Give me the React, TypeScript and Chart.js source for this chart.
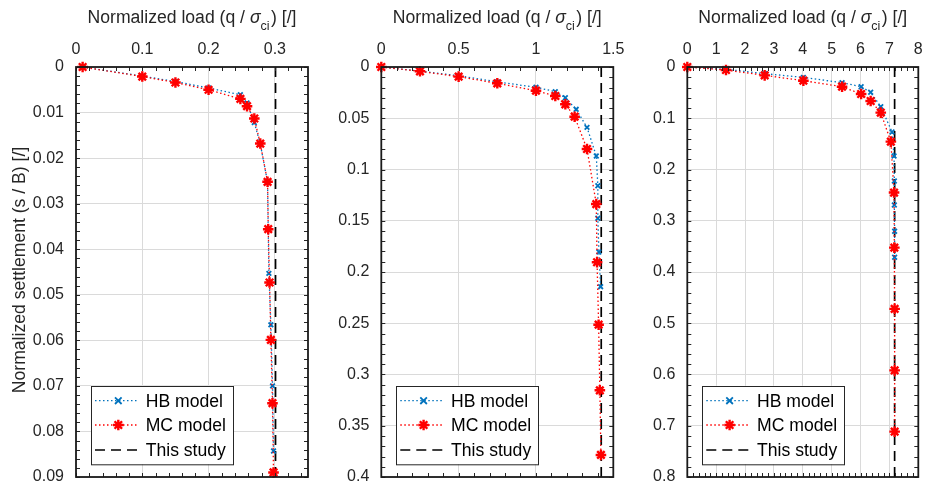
import React, { useEffect, useRef } from "react";
import { Chart, registerables } from "chart.js";

Chart.register(...registerables);

// ---------------- DATA ----------------
// Panel A
const hbLoadA = [0.01, 0.1, 0.15, 0.2, 0.248, 0.258, 0.269, 0.278, 0.289, 0.29, 0.291, 0.294, 0.2965, 0.298];
const hbSettleA = [0, 0.002, 0.0032, 0.0046, 0.0061, 0.0079, 0.0122, 0.0169, 0.0252, 0.0355, 0.0453, 0.0566, 0.07, 0.0843];
const mcLoadA = [0.01, 0.1, 0.15, 0.2, 0.248, 0.258, 0.269, 0.278, 0.289, 0.29, 0.292, 0.294, 0.2964, 0.298];
const mcSettleA = [0, 0.0021, 0.0034, 0.005, 0.007, 0.0086, 0.0113, 0.0168, 0.0252, 0.0356, 0.0473, 0.0599, 0.0738, 0.089];
const studyA = 0.301;
const xTicksA = [0, 0.1, 0.2, 0.3];
const xLabelsA = ["0", "0.1", "0.2", "0.3"];
const yTicksA = [0, 0.01, 0.02, 0.03, 0.04, 0.05, 0.06, 0.07, 0.08, 0.09];
const yLabelsA = ["0", "0.01", "0.02", "0.03", "0.04", "0.05", "0.06", "0.07", "0.08", "0.09"];

// Panel B
const hbLoadB = [0, 0.25, 0.5, 0.75, 1.0, 1.125, 1.19, 1.26, 1.33, 1.39, 1.4, 1.4, 1.407, 1.418];
const hbSettleB = [0, 0.004, 0.0085, 0.0145, 0.0198, 0.024, 0.03, 0.0413, 0.0589, 0.0868, 0.1158, 0.1476, 0.1805, 0.2143];
const mcLoadB = [0, 0.25, 0.5, 0.75, 1.0, 1.125, 1.19, 1.25, 1.33, 1.39, 1.395, 1.405, 1.413, 1.42];
const mcSettleB = [0, 0.0042, 0.0094, 0.0159, 0.0231, 0.0283, 0.0364, 0.0485, 0.08, 0.1337, 0.1905, 0.2514, 0.3154, 0.3785];
const studyB = 1.422;
const xTicksB = [0, 0.5, 1, 1.5];
const xLabelsB = ["0", "0.5", "1", "1.5"];
const yTicksB = [0, 0.05, 0.1, 0.15, 0.2, 0.25, 0.3, 0.35, 0.4];
const yLabelsB = ["0", "0.05", "0.1", "0.15", "0.2", "0.25", "0.3", "0.35", "0.4"];

// Panel C
const hbLoadC = [0, 1.34, 2.68, 4.02, 5.36, 6.02, 6.35, 6.7, 7.09, 7.16, 7.17, 7.17, 7.18, 7.18];
const hbSettleC = [0, 0.0045, 0.013, 0.0202, 0.0306, 0.0384, 0.0494, 0.0774, 0.1268, 0.1737, 0.2224, 0.2693, 0.3206, 0.3713];
const mcLoadC = [0, 1.34, 2.68, 4.02, 5.36, 6.02, 6.35, 6.7, 7.05, 7.16, 7.17, 7.18, 7.18, 7.18];
const mcSettleC = [0, 0.0059, 0.0163, 0.0267, 0.0384, 0.0527, 0.0663, 0.0891, 0.1457, 0.245, 0.3525, 0.472, 0.592, 0.7115];
const studyC = 7.18;
const xTicksC = [0, 1, 2, 3, 4, 5, 6, 7, 8];
const xLabelsC = ["0", "1", "2", "3", "4", "5", "6", "7", "8"];
const yTicksC = [0, 0.1, 0.2, 0.3, 0.4, 0.5, 0.6, 0.7, 0.8];
const yLabelsC = ["0", "0.1", "0.2", "0.3", "0.4", "0.5", "0.6", "0.7", "0.8"];

const xMaxes = [0.35, 1.5, 8];
const yMaxes = [0.09, 0.4, 0.8];

const legendLabels = ["HB model", "MC model", "This study"];
const xTitleParts = ["Normalized load (q / ", "σ", "ci", ") [/]"];
const yTitleText = "Normalized settlement (s / B) [/]";

// ---------------- STYLE / LAYOUT ----------------
const FF = '"Liberation Sans", Arial, Helvetica, sans-serif';
const TEXT = "#262626";
const BLUE = "#0072BD";
const RED = "#FF0000";
const GRID = "#dadada";
const H = 489;
const AREA_TOP = 67;
const AREA_BOTTOM = 477;
const LAYOUT = [
  { canvasLeft: 0, canvasWidth: 322, areaLeft: 76, areaRight: 308 },
  { canvasLeft: 322, canvasWidth: 304, areaLeft: 381.3, areaRight: 613.3 },
  { canvasLeft: 626, canvasWidth: 300, areaLeft: 687.3, areaRight: 918.3 },
];

type PanelCfg = {
  hbLoad: number[];
  hbSettle: number[];
  mcLoad: number[];
  mcSettle: number[];
  study: number;
  xMax: number;
  yMax: number;
  xTicks: number[];
  xLabels: string[];
  yTicks: number[];
  yLabels: string[];
  yTitle: boolean;
};

const PANELS: PanelCfg[] = [
  { hbLoad: hbLoadA, hbSettle: hbSettleA, mcLoad: mcLoadA, mcSettle: mcSettleA, study: studyA, xMax: xMaxes[0], yMax: yMaxes[0], xTicks: xTicksA, xLabels: xLabelsA, yTicks: yTicksA, yLabels: yLabelsA, yTitle: true },
  { hbLoad: hbLoadB, hbSettle: hbSettleB, mcLoad: mcLoadB, mcSettle: mcSettleB, study: studyB, xMax: xMaxes[1], yMax: yMaxes[1], xTicks: xTicksB, xLabels: xLabelsB, yTicks: yTicksB, yLabels: yLabelsB, yTitle: false },
  { hbLoad: hbLoadC, hbSettle: hbSettleC, mcLoad: mcLoadC, mcSettle: mcSettleC, study: studyC, xMax: xMaxes[2], yMax: yMaxes[2], xTicks: xTicksC, xLabels: xLabelsC, yTicks: yTicksC, yLabels: yLabelsC, yTitle: false },
];

function minorPositions(ticks: number[], max: number): number[] {
  const step = (ticks[1] - ticks[0]) / 5;
  const out: number[] = [];
  for (let k = 0; k * step <= max + 1e-9; k++) out.push(k * step);
  return out;
}

function drawCrossRot(ctx: CanvasRenderingContext2D, x: number, y: number, r: number) {
  ctx.beginPath();
  ctx.moveTo(x - r, y - r);
  ctx.lineTo(x + r, y + r);
  ctx.moveTo(x - r, y + r);
  ctx.lineTo(x + r, y - r);
  ctx.stroke();
}

function drawStar(ctx: CanvasRenderingContext2D, x: number, y: number, r: number) {
  ctx.beginPath();
  ctx.moveTo(x - r, y);
  ctx.lineTo(x + r, y);
  ctx.moveTo(x, y - r);
  ctx.lineTo(x, y + r);
  const d = r * Math.SQRT1_2;
  ctx.moveTo(x - d, y - d);
  ctx.lineTo(x + d, y + d);
  ctx.moveTo(x - d, y + d);
  ctx.lineTo(x + d, y - d);
  ctx.stroke();
}

function makeChart(canvas: HTMLCanvasElement, cfg: PanelCfg, lay: typeof LAYOUT[number]) {
  const decorations = {
    id: "decor",
    afterDraw(chart: any) {
      const { ctx, chartArea: a, scales } = chart;
      const xs = scales.x;
      const ys = scales.y;
      ctx.save();
      // inward ticks (major + minor) on all four sides
      ctx.strokeStyle = TEXT;
      ctx.lineWidth = 1;
      const len = 4;
      ctx.beginPath();
      for (const v of minorPositions(cfg.xTicks, cfg.xMax)) {
        const px = Math.round(xs.getPixelForValue(v)) + 0.5;
        ctx.moveTo(px, a.top);
        ctx.lineTo(px, a.top + len);
        ctx.moveTo(px, a.bottom);
        ctx.lineTo(px, a.bottom - len);
      }
      for (const v of minorPositions(cfg.yTicks, cfg.yMax)) {
        const py = Math.round(ys.getPixelForValue(v)) + 0.5;
        ctx.moveTo(a.left, py);
        ctx.lineTo(a.left + len, py);
        ctx.moveTo(a.right, py);
        ctx.lineTo(a.right - len, py);
      }
      ctx.stroke();
      // box
      ctx.lineWidth = 1.8;
      ctx.strokeStyle = "#1a1a1a";
      ctx.strokeRect(a.left, a.top, a.right - a.left, a.bottom - a.top);

      // x title with italic sigma and subscript
      const fonts = [
        `17.6px ${FF}`,
        `italic 17.6px ${FF}`,
        `12.5px ${FF}`,
        `17.6px ${FF}`,
      ];
      const dys = [0, 0, 7.5, 0];
      let total = 0;
      const widths: number[] = [];
      xTitleParts.forEach((t, i) => {
        ctx.font = fonts[i];
        const w = ctx.measureText(t).width + (i === 2 ? 1.5 : 0);
        widths.push(w);
        total += w;
      });
      let tx = (a.left + a.right) / 2 - total / 2;
      ctx.fillStyle = TEXT;
      ctx.textBaseline = "alphabetic";
      ctx.textAlign = "left";
      xTitleParts.forEach((t, i) => {
        ctx.font = fonts[i];
        ctx.fillText(t, tx, 22.7 + dys[i]);
        tx += widths[i];
      });

      // y title
      if (cfg.yTitle) {
        ctx.save();
        ctx.translate(20 - lay.canvasLeft, (AREA_TOP + AREA_BOTTOM) / 2 - 2);
        ctx.rotate(-Math.PI / 2);
        ctx.font = `17.6px ${FF}`;
        ctx.textAlign = "center";
        ctx.textBaseline = "middle";
        ctx.fillText(yTitleText, 0, 0);
        ctx.restore();
      }

      // legend
      const bx = a.left + 15;
      const by = 385.7;
      const bw = 142;
      const bh = 78.3;
      ctx.fillStyle = "#ffffff";
      ctx.fillRect(bx, by, bw, bh);
      ctx.lineWidth = 1;
      ctx.strokeStyle = TEXT;
      ctx.strokeRect(Math.round(bx) + 0.5, Math.round(by) + 0.5, bw, bh);
      const rows = [by + 15, by + 39.3, by + 64.3];
      const x0 = bx + 4;
      const x1 = bx + 47;
      const xm = bx + 27.3;
      // HB
      ctx.save();
      ctx.strokeStyle = BLUE;
      ctx.lineWidth = 1.3;
      ctx.setLineDash([1.5, 2.5]);
      ctx.beginPath();
      ctx.moveTo(x0, rows[0]);
      ctx.lineTo(x1, rows[0]);
      ctx.stroke();
      ctx.setLineDash([]);
      ctx.lineWidth = 1.8;
      drawCrossRot(ctx, xm, rows[0], 3.3);
      // MC
      ctx.strokeStyle = RED;
      ctx.lineWidth = 1.3;
      ctx.setLineDash([1.5, 2.5]);
      ctx.beginPath();
      ctx.moveTo(x0, rows[1]);
      ctx.lineTo(x1, rows[1]);
      ctx.stroke();
      ctx.setLineDash([]);
      ctx.lineWidth = 2.4;
      drawStar(ctx, xm, rows[1], 5.3);
      // Study
      ctx.strokeStyle = "#000";
      ctx.lineWidth = 1.7;
      ctx.setLineDash([10, 6]);
      ctx.beginPath();
      ctx.moveTo(x0, rows[2]);
      ctx.lineTo(x1, rows[2]);
      ctx.stroke();
      ctx.restore();
      ctx.fillStyle = "#000";
      ctx.font = `17.6px ${FF}`;
      ctx.textAlign = "left";
      ctx.textBaseline = "middle";
      legendLabels.forEach((t, i) => ctx.fillText(t, bx + 54.7, rows[i] + 1));
      ctx.restore();
    },
  };

  return new Chart(canvas, {
    type: "scatter",
    data: {
      datasets: [
        {
          label: legendLabels[1],
          data: cfg.mcLoad.map((x, i) => ({ x, y: cfg.mcSettle[i] })),
          showLine: true,
          borderColor: RED,
          borderWidth: 1.3,
          borderDash: [1.5, 2.5],
          pointStyle: "star",
          pointRadius: 5.3,
          pointBorderWidth: 2.4,
          pointBorderColor: RED,
          pointBackgroundColor: RED,
          order: 1,
          clip: false,
        } as any,
        {
          label: legendLabels[0],
          data: cfg.hbLoad.map((x, i) => ({ x, y: cfg.hbSettle[i] })),
          showLine: true,
          borderColor: BLUE,
          borderWidth: 1.3,
          borderDash: [1.5, 2.5],
          pointStyle: "crossRot",
          pointRadius: 3.3,
          pointBorderWidth: 1.8,
          pointBorderColor: BLUE,
          pointBackgroundColor: BLUE,
          order: 2,
          clip: false,
        } as any,
        {
          label: legendLabels[2],
          data: [
            { x: cfg.study, y: 0 },
            { x: cfg.study, y: cfg.yMax },
          ],
          showLine: true,
          borderColor: "#000",
          borderWidth: 1.7,
          borderDash: [10, 6],
          pointRadius: 0,
          order: 3,
        } as any,
      ],
    },
    options: {
      animation: false,
      responsive: false,
      events: [],
      layout: {
        padding: {
          left: 0,
          top: 0,
          right: lay.canvasLeft + lay.canvasWidth - lay.areaRight,
          bottom: H - AREA_BOTTOM,
        },
      },
      plugins: {
        legend: { display: false },
        tooltip: { enabled: false },
        title: { display: false },
      },
      scales: {
        x: {
          type: "linear",
          position: "top",
          min: 0,
          max: cfg.xMax,
          afterBuildTicks: (scale: any) => {
            scale.ticks = cfg.xTicks.map((v) => ({ value: v }));
          },
          afterFit: (scale: any) => {
            scale.height = AREA_TOP;
            scale.paddingLeft = 0;
            scale.paddingRight = 0;
          },
          ticks: {
            autoSkip: false,
            maxRotation: 0,
            padding: 8,
            color: TEXT,
            font: { family: FF, size: 16 },
            callback: (_v: any, i: number) => cfg.xLabels[i],
          },
          grid: { color: GRID, lineWidth: 1, drawTicks: false },
          border: { display: false },
        },
        y: {
          type: "linear",
          reverse: true,
          min: 0,
          max: cfg.yMax,
          afterBuildTicks: (scale: any) => {
            scale.ticks = cfg.yTicks.map((v) => ({ value: v }));
          },
          afterFit: (scale: any) => {
            scale.width = lay.areaLeft - lay.canvasLeft;
            scale.paddingTop = 0;
            scale.paddingBottom = 0;
          },
          ticks: {
            autoSkip: false,
            padding: 12,
            color: TEXT,
            font: { family: FF, size: 16 },
            callback: (_v: any, i: number) => cfg.yLabels[i],
          },
          grid: { color: GRID, lineWidth: 1, drawTicks: false },
          border: { display: false },
        },
      },
    } as any,
    plugins: [decorations],
  });
}

function Panel({ cfg, lay }: { cfg: PanelCfg; lay: typeof LAYOUT[number] }) {
  const ref = useRef<HTMLCanvasElement | null>(null);
  useEffect(() => {
    if (!ref.current) return;
    const chart = makeChart(ref.current, cfg, lay);
    return () => chart.destroy();
  }, [cfg, lay]);
  return (
    <canvas
      ref={ref}
      width={lay.canvasWidth}
      height={H}
      style={{ position: "absolute", left: lay.canvasLeft, top: 0, width: lay.canvasWidth, height: H }}
    />
  );
}

export default function App() {
  return (
    <div style={{ position: "fixed", left: 0, top: 0, width: 926, height: H, background: "#fff" }}>
      {PANELS.map((p, i) => (
        <Panel key={i} cfg={p} lay={LAYOUT[i]} />
      ))}
    </div>
  );
}
